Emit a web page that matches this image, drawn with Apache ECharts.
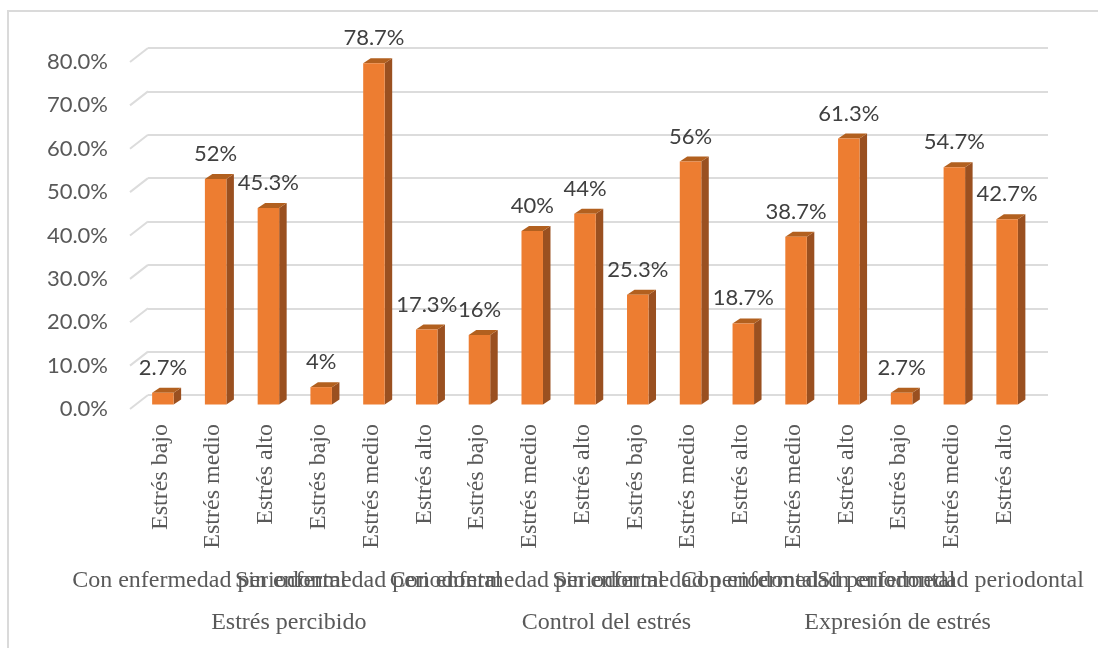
<!DOCTYPE html>
<html><head><meta charset="utf-8">
<style>html,body{margin:0;padding:0;background:#fff}#c{width:1098px;height:648px}</style>
<script src="https://cdn.jsdelivr.net/npm/echarts@6/dist/echarts.min.js"></script>
</head><body><div id="c"></div>
<script>
const stressLevels = ['Estrés bajo','Estrés medio','Estrés alto','Estrés bajo','Estrés medio','Estrés alto','Estrés bajo','Estrés medio','Estrés alto','Estrés bajo','Estrés medio','Estrés alto','Estrés medio','Estrés alto','Estrés bajo','Estrés medio','Estrés alto'];
const percentages = [2.7,52,45.3,4,78.7,17.3,16,40,44,25.3,56,18.7,38.7,61.3,2.7,54.7,42.7];
const periodontalLabels = ['Con enfermedad periodontal','Sin enfermedad periodontal','Con enfermedad periodontal','Sin enfermedad periodontal','Con enfermedad periodontal','Sin enfermedad periodontal'];
const periodontalCenters = [1.5,4.5,7.5,10.5,13,15.5];
const dimensionLabels = ['Estrés percibido','Control del estrés','Expresión de estrés'];
const dimensionCenters = [3,9,14.5];
const yTicks = [0,10,20,30,40,50,60,70,80];

const serif = '"Liberation Serif"', sans = 'Lato';
const hide = {show:false};
const ORANGE='#ED7D31', SIDE='#9A5020', TOP='#B2601F', GRID='#DCDCDC', DX=7.5, DY=5, BW=21.5;
// The end stops are blank: ECharts only ever drops the first/last label of an overlapping run.
const levelLabel = (centers, names) => ({
  customValues:[0,...centers,17],margin:0,fontFamily:serif,fontSize:24,color:'#595959',
  hideOverlap:false,showMinLabel:false,showMaxLabel:false,
  formatter:v=>{const i=centers.indexOf(v);return i<0?'':names[i];}
});

const chart = echarts.init(document.getElementById('c'), null, {renderer:'canvas'});
chart.setOption({
  animation:false,
  backgroundColor:'#fff',
  graphic:[{type:'rect',z:-10,shape:{x:8,y:11,width:1300,height:900},style:{fill:'#fff',stroke:'#DADADA',lineWidth:2}}],
  grid:[
    {left:130,top:62,width:900,height:347},    // front floor plane: tick labels, group labels
    {left:148,top:48,width:900,height:347},    // back wall: gridlines
    {left:136.5,top:57.5,width:897,height:347},// bars
    {left:134,top:62,width:897,height:347}     // rotated category labels
  ],
  xAxis:[
    {gridIndex:3,type:'category',data:stressLevels,position:'bottom',
      axisLine:hide,axisTick:hide,
      axisLabel:{interval:0,rotate:90,margin:15,fontFamily:serif,fontSize:24,color:'#595959'}},
    {gridIndex:0,type:'value',min:0,max:17,position:'bottom',offset:160,
      axisLine:hide,axisTick:hide,splitLine:hide,
      axisLabel:levelLabel(periodontalCenters,periodontalLabels)},
    {gridIndex:0,type:'value',min:0,max:17,position:'bottom',offset:202,
      axisLine:hide,axisTick:hide,splitLine:hide,
      axisLabel:levelLabel(dimensionCenters,dimensionLabels)},
    {gridIndex:1,type:'category',data:stressLevels,show:false},
    {gridIndex:2,type:'category',data:stressLevels,show:false}
  ],
  yAxis:[
    {gridIndex:0,type:'value',min:0,max:80,interval:10,axisLine:hide,axisTick:hide,splitLine:hide,
      axisLabel:{margin:22,fontFamily:sans,fontSize:22,color:'#595959',formatter:v=>v.toFixed(1)+'%'}},
    {gridIndex:1,type:'value',min:0,max:80,interval:10,axisLine:hide,axisTick:hide,axisLabel:hide,
      splitLine:{show:true,lineStyle:{color:GRID,width:2}}},
    {gridIndex:2,type:'value',min:0,max:80,interval:10,show:false,splitLine:hide},
    {gridIndex:3,type:'value',min:0,max:80,interval:10,show:false,splitLine:hide}
  ],
  series:[
    {type:'custom',xAxisIndex:1,yAxisIndex:0,z:1,silent:true,
      data:yTicks.map(t=>[0,t]),encode:{x:0,y:1},
      renderItem:(p,api)=>{const a=api.coord([0,api.value(1)]);
        return {type:'line',shape:{x1:a[0],y1:a[1],x2:a[0]+18,y2:a[1]-14},style:{stroke:GRID,lineWidth:2}};}},
    {type:'custom',xAxisIndex:4,yAxisIndex:2,z:3,silent:true,
      data:percentages.map((v,i)=>[i,v]),encode:{x:0,y:1},
      renderItem:(p,api)=>{
        const t=api.coord([api.value(0),api.value(1)]), b=api.coord([api.value(0),0]);
        const l=t[0]-BW/2, r=t[0]+BW/2;
        return {type:'group',children:[
          {type:'polygon',shape:{points:[[r,t[1]],[r+DX,t[1]-DY],[r+DX,b[1]-DY],[r,b[1]]]},style:{fill:SIDE}},
          {type:'polygon',shape:{points:[[l,t[1]],[l+DX,t[1]-DY],[r+DX,t[1]-DY],[r,t[1]]]},style:{fill:TOP}}
        ]};
      }},
    {type:'bar',xAxisIndex:4,yAxisIndex:2,z:4,data:percentages,barWidth:BW,
      itemStyle:{color:ORANGE},
      label:{show:true,position:'top',distance:14,fontFamily:sans,fontSize:22,color:'#404040',formatter:o=>o.value+'%'}}
  ]
});
</script></body></html>
